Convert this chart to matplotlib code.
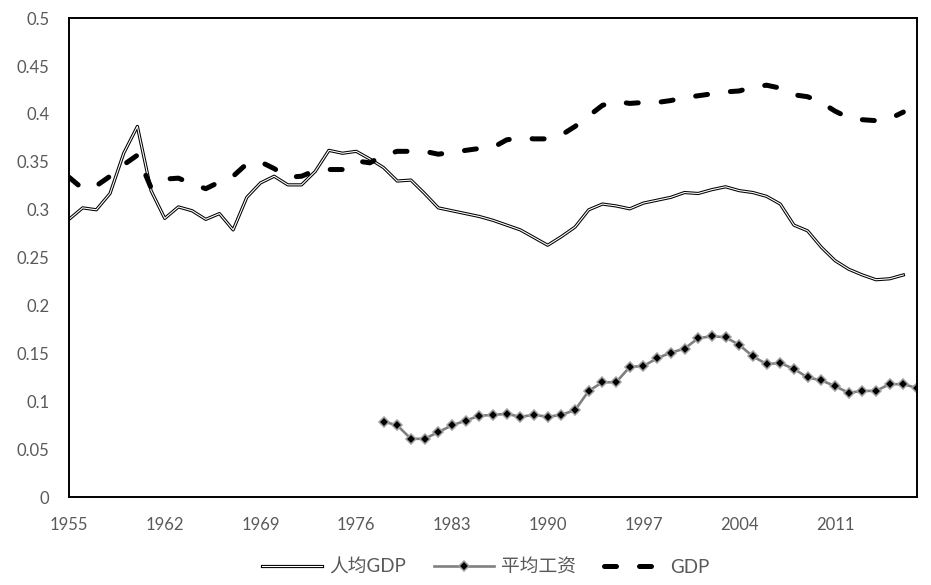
import matplotlib
matplotlib.use("Agg")
import matplotlib.pyplot as plt
import matplotlib.patheffects as pe

plt.rcParams['font.family'] = ['Lato', 'Noto Sans CJK SC', 'DejaVu Sans']

years = list(range(1955, 2018))

# 人均GDP, 1955-2016
per_capita_gdp = [
    0.290, 0.302, 0.300, 0.317, 0.359, 0.387, 0.320, 0.291, 0.303, 0.299,
    0.290, 0.296, 0.279, 0.313, 0.328, 0.335, 0.326, 0.326, 0.340, 0.362,
    0.359, 0.361, 0.353, 0.344, 0.330, 0.331, 0.317, 0.302, 0.299, 0.296,
    0.293, 0.289, 0.284, 0.279, 0.271, 0.263, 0.272, 0.282, 0.300, 0.306,
    0.304, 0.301, 0.307, 0.310, 0.313, 0.318, 0.317, 0.321, 0.324, 0.320,
    0.318, 0.314, 0.306, 0.284, 0.278, 0.261, 0.247, 0.238, 0.232, 0.227,
    0.228, 0.232,
]

# 平均工资, 1978-2017
wage_years = list(range(1978, 2018))
avg_wage = [
    0.079, 0.075, 0.061, 0.061, 0.068, 0.075, 0.080, 0.085, 0.086, 0.087,
    0.084, 0.086, 0.084, 0.086, 0.091, 0.111, 0.120, 0.120, 0.136, 0.137,
    0.145, 0.151, 0.155, 0.166, 0.168, 0.167, 0.159, 0.147, 0.139, 0.140,
    0.134, 0.125, 0.122, 0.116, 0.109, 0.111, 0.111, 0.118, 0.118, 0.114,
]

# GDP, 1955-2016
gdp = [
    0.334, 0.322, 0.325, 0.335, 0.347, 0.357, 0.323, 0.332, 0.333, 0.327,
    0.322, 0.329, 0.335, 0.348, 0.350, 0.343, 0.334, 0.335, 0.341, 0.342,
    0.342, 0.351, 0.349, 0.357, 0.361, 0.361, 0.361, 0.358, 0.360, 0.362,
    0.364, 0.365, 0.373, 0.375, 0.374, 0.374, 0.378, 0.387, 0.398, 0.409,
    0.413, 0.411, 0.412, 0.412, 0.414, 0.417, 0.419, 0.421, 0.423, 0.424,
    0.428, 0.430, 0.427, 0.420, 0.418, 0.412, 0.403, 0.396, 0.394, 0.393,
    0.395, 0.402,
]

label_color = '#595959'

fig = plt.figure(figsize=(9.31, 5.85), dpi=100)
ax = fig.add_axes([0.0741, 0.150, 0.9109, 0.819])

ax.plot(years[:len(per_capita_gdp)], per_capita_gdp, color='white', lw=0.8,
        label='人均GDP',
        path_effects=[pe.Stroke(linewidth=2.3, foreground='black'), pe.Normal()])
ax.plot(wage_years, avg_wage, color='#808080', lw=1.9, marker='D',
        markersize=5.2, markerfacecolor='black', markeredgecolor='#a0a0a0',
        markeredgewidth=1.1, label='平均工资')
ax.plot(years[:len(gdp)], gdp, color='black', lw=3.6, dashes=(2.4, 4.6),
        dash_capstyle='round', label='GDP')

ax.set_xlim(1955, 2017)
ax.set_ylim(0, 0.5)
ax.set_xticks(list(range(1955, 2017, 7)))
ax.set_yticks([i * 0.05 for i in range(11)])
ax.set_yticklabels(['0', '0.05', '0.1', '0.15', '0.2', '0.25', '0.3',
                    '0.35', '0.4', '0.45', '0.5'])
ax.tick_params(axis='both', length=0, labelsize=12, labelcolor=label_color)
ax.tick_params(axis='y', pad=14)
ax.tick_params(axis='x', pad=14)
for s in ax.spines.values():
    s.set_color('black')
    s.set_linewidth(1.4)

leg = fig.legend(loc='center', bbox_to_anchor=(0.522, 0.03), ncol=3,
                 frameon=False, fontsize=13.5, handlelength=3.2,
                 handletextpad=0.35, columnspacing=1.5)
for t in leg.get_texts():
    t.set_color(label_color)

fig.savefig('out.png', dpi=100)
